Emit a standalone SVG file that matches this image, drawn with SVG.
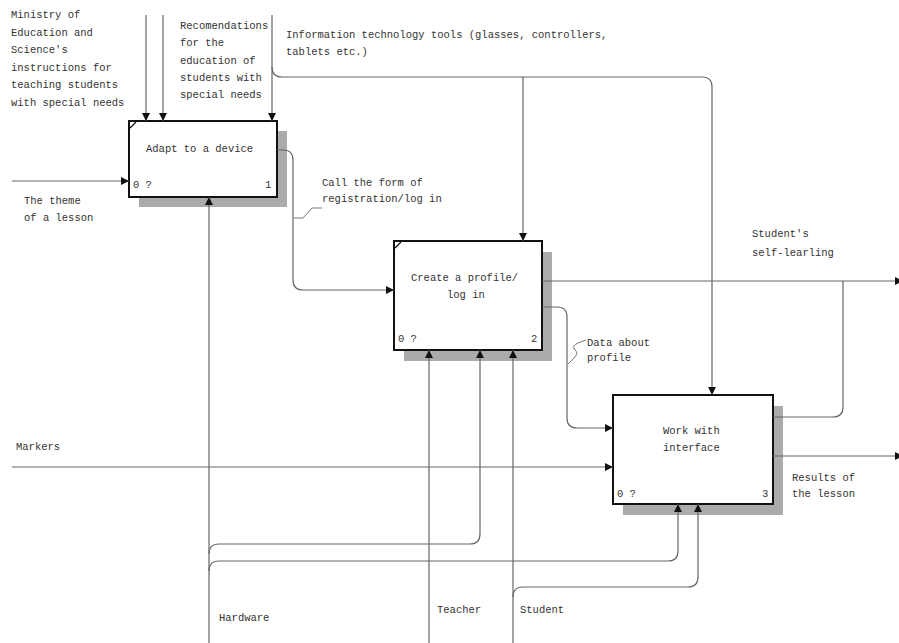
<svg xmlns="http://www.w3.org/2000/svg" width="899" height="643" viewBox="0 0 899 643">
<style>
text{font-family:"Liberation Mono","DejaVu Sans Mono",monospace;font-size:10.5px;fill:#333}
.box{fill:#fff;stroke:#111;stroke-width:2}
.sh{fill:#ababab}
.ln{fill:none;stroke:#666;stroke-width:1.2}
.sq{fill:none;stroke:#777;stroke-width:1}
</style>
<defs>
<marker id="ah" markerUnits="userSpaceOnUse" markerWidth="9" markerHeight="8" refX="8" refY="4" orient="auto">
<path d="M0,0 L8,4 L0,8 Z" fill="#111"/>
</marker>
</defs>
<rect width="899" height="643" fill="#fff"/>
<g id="box1">
<rect class="sh" x="139" y="131" width="148" height="76"/>
<rect class="box" x="129" y="121" width="148" height="76"/>
<path d="M130,128 L136,122" stroke="#111" stroke-width="1.2"/>
<text x="146" y="152">Adapt to a device</text>
<text x="133" y="188">0 ?</text>
<text x="265" y="188">1</text>
</g>
<g id="box2">
<rect class="sh" x="404" y="252" width="148" height="109"/>
<rect class="box" x="394" y="241" width="148" height="109"/>
<path d="M395,248 L401,242" stroke="#111" stroke-width="1.2"/>
<text x="411" y="281">Create a profile/</text>
<text x="447" y="298">log in</text>
<text x="398" y="342">0 ?</text>
<text x="531" y="342">2</text>
</g>
<g id="box3">
<rect class="sh" x="623" y="406" width="160" height="109"/>
<rect class="box" x="613" y="395" width="160" height="109"/>
<text x="663" y="434">Work with</text>
<text x="663" y="451">interface</text>
<text x="617" y="497">0 ?</text>
<text x="762" y="497">3</text>
</g>
<g id="connectors">
<path class="ln" d="M146,15 V121" marker-end="url(#ah)"/>
<path class="ln" d="M163,15 V121" marker-end="url(#ah)"/>
<path class="ln" d="M272,15 V121" marker-end="url(#ah)"/>
<path class="ln" d="M272,67 Q272,77 282,77 H702 Q712,77 712,87 V395" marker-end="url(#ah)"/>
<path class="ln" d="M523,77 V241" marker-end="url(#ah)"/>
<path class="ln" d="M12,181 H129" marker-end="url(#ah)"/>
<path class="ln" d="M277,150 H283 Q293,150 293,160 V280 Q293,290 303,290 H394" marker-end="url(#ah)"/>
<path class="sq" d="M294,218 H303 L312,208 H322"/>
<path class="ln" d="M542,281 H903" marker-end="url(#ah)"/>
<path class="ln" d="M542,307 H557 Q567,307 567,317 V418 Q567,428 577,428 H613" marker-end="url(#ah)"/>
<path class="sq" d="M568,364 L574,358 Q579,353 575,350 Q571,346 578,343 L586,340"/>
<path class="ln" d="M773,417 H833 Q843,417 843,407 V281"/>
<path class="ln" d="M773,456 H903" marker-end="url(#ah)"/>
<path class="ln" d="M12,467 H613" marker-end="url(#ah)"/>
<path class="ln" d="M209,643 V197" marker-end="url(#ah)"/>
<path class="ln" d="M209,554 Q209,544 219,544 H470 Q480,544 480,534 V350" marker-end="url(#ah)"/>
<path class="ln" d="M209,571 Q209,561 219,561 H668 Q678,561 678,551 V504" marker-end="url(#ah)"/>
<path class="ln" d="M429,643 V350" marker-end="url(#ah)"/>
<path class="ln" d="M513,643 V350" marker-end="url(#ah)"/>
<path class="ln" d="M513,597 Q513,587 523,587 H688 Q698,587 698,577 V504" marker-end="url(#ah)"/>
</g>
<g id="labels">
<text x="11" y="18">Ministry of</text>
<text x="11" y="35.5">Education and</text>
<text x="11" y="53">Science's</text>
<text x="11" y="70.5">instructions for</text>
<text x="11" y="88">teaching students</text>
<text x="11" y="105.5">with special needs</text>
<text x="180" y="29">Recomendations</text>
<text x="180" y="46">for the</text>
<text x="180" y="64">education of</text>
<text x="180" y="81">students with</text>
<text x="180" y="98">special needs</text>
<text x="286" y="38">Information technology tools (glasses, controllers,</text>
<text x="286" y="55">tablets etc.)</text>
<text x="24" y="204">The theme</text>
<text x="24" y="221">of a lesson</text>
<text x="322" y="186">Call the form of</text>
<text x="322" y="202">registration/log in</text>
<text x="752" y="237">Student's</text>
<text x="752" y="256">self-learling</text>
<text x="587" y="346">Data about</text>
<text x="587" y="361">profile</text>
<text x="792" y="481">Results of</text>
<text x="792" y="497">the lesson</text>
<text x="16" y="450">Markers</text>
<text x="219" y="621">Hardware</text>
<text x="437" y="613">Teacher</text>
<text x="520" y="613">Student</text>
</g>
</svg>
